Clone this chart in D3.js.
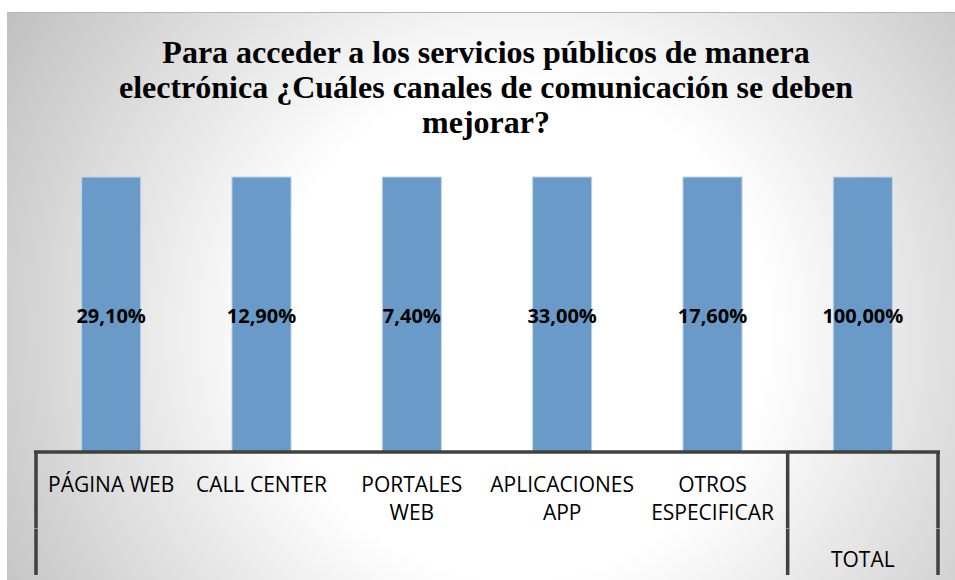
<!DOCTYPE html>
<html>
  <head>
    <meta charset="utf-8">
    <title>Canales de comunicación</title>
    <script src="https://d3js.org/d3.v7.min.js"></script>
    <style>
      body { margin: 0; background: #fff; }
      .title { font-family: "Liberation Serif", serif; font-weight: bold; font-size: 32px; fill: #000; }
      .value { font-family: "Open Sans", sans-serif; font-weight: bold; font-size: 20px; fill: #000; }
      .cat { font-family: "Open Sans", sans-serif; font-size: 21px; fill: #000; }
    </style>
  </head>
  <body>
    <svg id="chart" width="955" height="580"></svg>
    <script>
      // chart data
      var titleLines = [
        "Para acceder a los servicios públicos de manera",
        "electrónica ¿Cuáles canales de comunicación se deben",
        "mejorar?"
      ];
      var categories = ["PÁGINA WEB", "CALL CENTER", "PORTALES WEB", "APLICACIONES APP", "OTROS ESPECIFICAR", ""];
      var groups = ["", "", "", "", "", "TOTAL"];
      var barValues = [1, 1, 1, 1, 1, 1];
      var valueLabels = ["29,10%", "12,90%", "7,40%", "33,00%", "17,60%", "100,00%"];

      var width = 955, height = 580;
      var margin = { top: 177, left: 36, right: 17, axis: 452, bottom: 575 };

      var chart = d3.select("#chart");

      // background with radial gradient
      var grad = chart.append("defs").append("radialGradient")
        .attr("id", "bg")
        .attr("gradientUnits", "userSpaceOnUse")
        .attr("cx", 520).attr("cy", 330).attr("r", 620);
      grad.append("stop").attr("offset", 0).attr("stop-color", "#ffffff");
      grad.append("stop").attr("offset", 0.4).attr("stop-color", "#ffffff");
      grad.append("stop").attr("offset", 1).attr("stop-color", "#bdbdbd");

      chart.append("rect")
        .attr("x", 7).attr("y", 12)
        .attr("width", width - 7).attr("height", height - 12)
        .style("fill", "url(#bg)");
      chart.append("line")
        .attr("x1", 7).attr("x2", width)
        .attr("y1", 12.5).attr("y2", 12.5)
        .style("stroke", "#b4b4b4");

      // title
      chart.append("g").selectAll("text")
          .data(titleLines)
        .enter().append("text")
          .classed("title", true)
          .attr("x", 486)
          .attr("y", function(d, i) { return 63 + i * 35; })
          .attr("text-anchor", "middle")
          .text(function(d) { return d; });

      // scales
      var x = d3.scaleBand()
        .domain(d3.range(categories.length))
        .range([margin.left, width - margin.right])
        .paddingInner(0.607)
        .paddingOuter(0.3035);
      var y = d3.scaleLinear()
        .domain([0, 1])
        .range([margin.axis, margin.top]);
      var step = x.step();
      var slotLeft = function(i) { return margin.left + i * step; };

      // bars
      chart.append("g").selectAll("rect")
          .data(barValues)
        .enter().append("rect")
          .attr("x", function(d, i) { return x(i); })
          .attr("y", function(d) { return y(d); })
          .attr("width", x.bandwidth())
          .attr("height", function(d) { return y(0) - y(d); })
          .style("fill", "#6a9bc8")
          .style("stroke", "#bfd3e9")
          .style("stroke-width", 1);

      // value labels
      chart.append("g").selectAll("text")
          .data(valueLabels)
        .enter().append("text")
          .classed("value", true)
          .attr("x", function(d, i) { return x(i) + x.bandwidth() / 2; })
          .attr("y", 323)
          .attr("text-anchor", "middle")
          .text(function(d) { return d; });

      // category axis (two levels)
      var axis = chart.append("g");
      var right = slotLeft(categories.length);
      axis.append("line")
        .attr("x1", margin.left - 2).attr("x2", right + 2)
        .attr("y1", margin.axis).attr("y2", margin.axis);
      [0, 5, 6].forEach(function(i) {
        axis.append("line")
          .attr("x1", slotLeft(i)).attr("x2", slotLeft(i))
          .attr("y1", margin.axis).attr("y2", margin.bottom);
      });
      axis.selectAll("line")
        .style("stroke", "#404040")
        .style("stroke-width", 3.5);
      [0, 5, 6].forEach(function(i) {
        axis.append("rect")
          .attr("x", slotLeft(i) - 2).attr("y", 528)
          .attr("width", 4).attr("height", 1)
          .style("fill", "#9c9c9c");
      });

      // level 1 labels, wrapped to slot width
      var catText = chart.append("g").selectAll("text")
          .data(categories)
        .enter().append("text")
          .classed("cat", true)
          .attr("text-anchor", "middle")
          .attr("x", function(d, i) { return x(i) + x.bandwidth() / 2; })
          .attr("y", 492);
      catText.each(function(d) {
        var el = d3.select(this),
            words = d.split(" "),
            line = [],
            tspan = el.append("tspan").attr("x", el.attr("x")).attr("dy", 0);
        words.forEach(function(w) {
          line.push(w);
          tspan.text(line.join(" "));
          if (line.length > 1 && tspan.node().getComputedTextLength() > 140) {
            line.pop();
            tspan.text(line.join(" "));
            line = [w];
            tspan = el.append("tspan").attr("x", el.attr("x")).attr("dy", 28).text(w);
          }
        });
      });

      // level 2 labels
      chart.append("g").selectAll("text")
          .data(groups)
        .enter().append("text")
          .classed("cat", true)
          .attr("text-anchor", "middle")
          .attr("x", function(d, i) { return slotLeft(i) + step / 2; })
          .attr("y", 567)
          .text(function(d) { return d; });
    </script>
  </body>
</html>
